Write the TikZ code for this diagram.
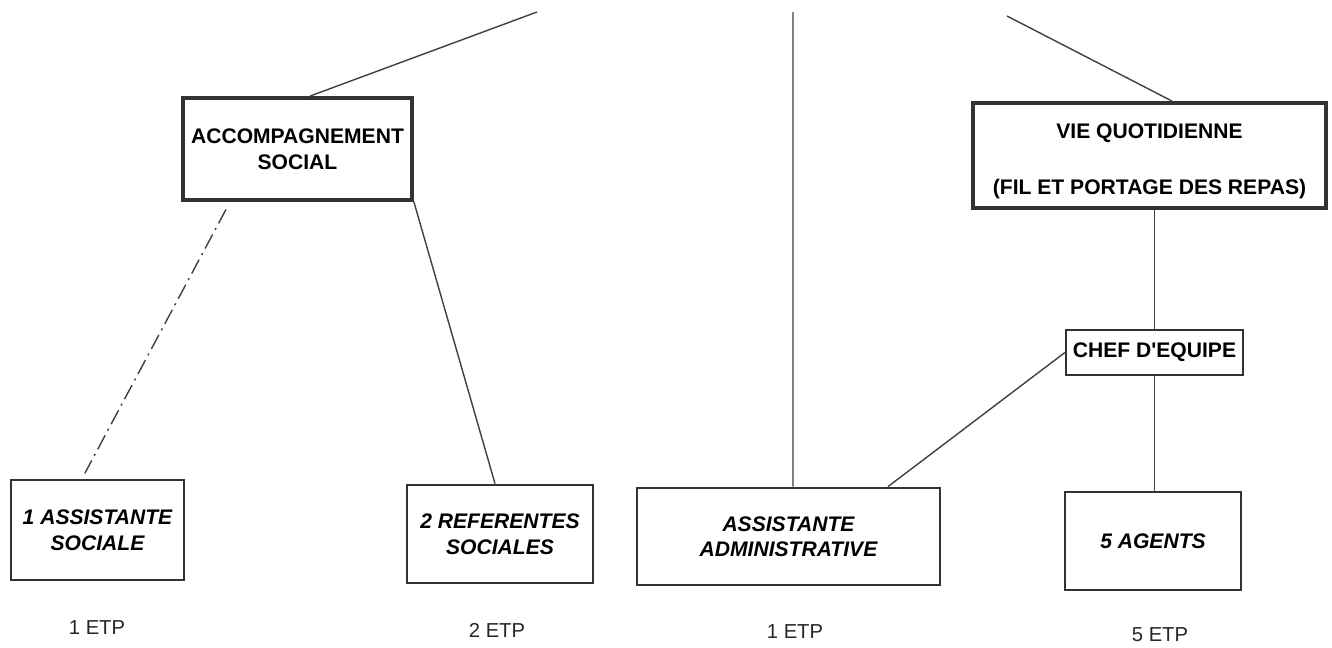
\documentclass[tikz,border=0pt]{standalone}
\usepackage{fontspec}
\setmainfont{Liberation Sans}
\begin{document}
\begin{tikzpicture}[x=0.02cm,y=-0.02cm,
  ink/.style={draw=black!80},
  topbox/.style={ink, line width=2.2pt, rectangle, align=center, inner sep=0pt,
    font=\bfseries\fontsize{12}{14.5}\selectfont},
  botbox/.style={ink, line width=1.6pt, rectangle, align=center, inner sep=0pt,
    font=\bfseries\itshape\fontsize{12}{14.5}\selectfont},
  chefbox/.style={ink, line width=1.3pt, rectangle, align=center, inner sep=0pt,
    font=\bfseries\fontsize{12}{14.5}\selectfont},
  etp/.style={inner sep=0pt, font=\fontsize{11.5}{13}\selectfont, text=black!85},
  link/.style={draw=black!75, line width=0.8pt},
  dashdotlink/.style={link, dash pattern=on 9pt off 3pt on 1.2pt off 3pt}
]
\useasboundingbox (0,0) rectangle (1332,647);

% top level boxes
\node[topbox, minimum width=4.58cm, minimum height=2.04cm] (acc) at (297.5,149)
  {ACCOMPAGNEMENT\\SOCIAL};
\node[topbox, minimum width=7.06cm, minimum height=2.10cm] (vie) at (1149.5,155.5)
  {\rule{0pt}{15pt}VIE QUOTIDIENNE\\[17pt](FIL ET PORTAGE DES REPAS)};
\node[chefbox, minimum width=3.54cm, minimum height=0.90cm] (chef) at (1154.5,352.5)
  {CHEF D\textquotesingle EQUIPE};

% bottom boxes
\node[botbox, minimum width=3.46cm, minimum height=2.00cm] (as1) at (97.5,530)
  {1 ASSISTANTE\\SOCIALE};
\node[botbox, minimum width=3.72cm, minimum height=1.96cm] (ref) at (500,534)
  {2 REFERENTES\\SOCIALES};
\node[botbox, minimum width=6.06cm, minimum height=1.94cm] (adm) at (788.5,536.5)
  {ASSISTANTE\\ADMINISTRATIVE};
\node[botbox, minimum width=3.52cm, minimum height=1.96cm] (ag) at (1153,541)
  {5 AGENTS};

% ETP labels
\node[etp] (e1) at (97,628) {1 ETP};
\node[etp] (e2) at (497,630) {2 ETP};
\node[etp] (e3) at (795,632) {1 ETP};
\node[etp] (e4) at (1160,635) {5 ETP};

% free ends at the top
\coordinate (t1) at (537,12);
\coordinate (t2) at (793,12);
\coordinate (t3) at (1007,16);

% connectors
\draw[link] ([xshift=0.25cm]acc.north) -- (t1);
\draw[link] (t2) -- ([xshift=0.09cm]adm.north);
\draw[link] (t3) -- ([xshift=0.45cm]vie.north);
\draw[link] (chef.north) -- (chef.north |- vie.south);
\draw[link] (chef.south) -- (chef.south |- ag.north);
\draw[link] (chef.west) -- ([xshift=1.99cm]adm.north);
\draw[dashdotlink, shorten <=0.17cm, shorten >=0.12cm]
  ([xshift=-1.35cm]acc.south) -- ([xshift=-0.31cm]as1.north);
\draw[link] (acc.south east) -- ([xshift=-0.10cm]ref.north);
\end{tikzpicture}
\end{document}
